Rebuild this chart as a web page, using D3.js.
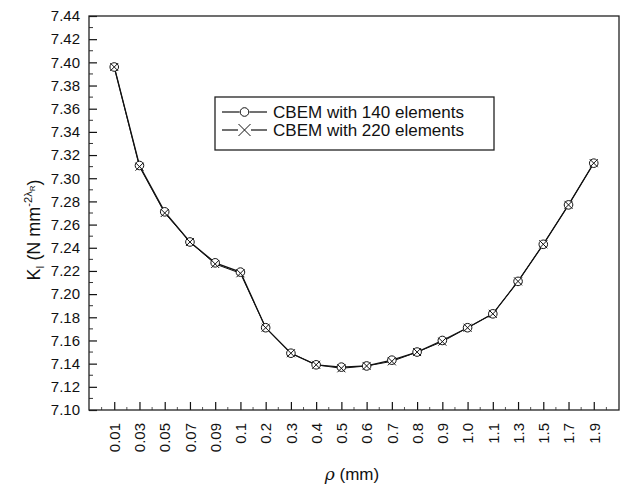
<!DOCTYPE html>
<html>
<head>
<meta charset="utf-8">
<script src="https://cdn.jsdelivr.net/npm/d3@7"></script>
<style>
  body { margin: 0; background: #fff; }
  text { font-family: "Liberation Sans", Arial, sans-serif; fill: #111; }
</style>
</head>
<body>
<div id="chart"></div>
<script>
var categories = ["0.01", "0.03", "0.05", "0.07", "0.09", "0.1", "0.2", "0.3", "0.4", "0.5",
                  "0.6", "0.7", "0.8", "0.9", "1.0", "1.1", "1.3", "1.5", "1.7", "1.9"];
var cbem140 = [7.396, 7.311, 7.271, 7.245, 7.227, 7.219, 7.171, 7.149, 7.139, 7.137,
               7.138, 7.143, 7.150, 7.160, 7.171, 7.183, 7.211, 7.243, 7.277, 7.313];
var cbem220 = [7.396, 7.310, 7.270, 7.245, 7.226, 7.218, 7.171, 7.149, 7.139, 7.136,
               7.138, 7.142, 7.150, 7.159, 7.171, 7.183, 7.211, 7.243, 7.277, 7.313];
var yTicks = [7.10, 7.12, 7.14, 7.16, 7.18, 7.20, 7.22, 7.24, 7.26, 7.28, 7.30,
              7.32, 7.34, 7.36, 7.38, 7.40, 7.42, 7.44];
var legendLabels = ["CBEM with 140 elements", "CBEM with 220 elements"];

var width = 625, height = 488;
var margin = {left: 89, top: 16, right: 6, bottom: 78};

var svg = d3.select("#chart").append("svg")
    .attr("width", width)
    .attr("height", height);

// points sit at 1..n, frame spans 0..n+1
var xScale = d3.scaleLinear()
    .domain([0, categories.length + 1])
    .range([margin.left, width - margin.right]);
var yScale = d3.scaleLinear()
    .domain([7.10, 7.44])
    .range([height - margin.bottom, margin.top]);

var x0 = xScale.range()[0], x1 = xScale.range()[1];
var y0 = yScale.range()[0], y1 = yScale.range()[1];

// minor ticks
var g = svg.append("g");
d3.range(0.5, categories.length + 1, 1).forEach(function(i) {
    g.append("line").attr("x1", xScale(i)).attr("x2", xScale(i))
        .attr("y1", y0).attr("y2", y0 - 3).attr("stroke", "#555").attr("stroke-width", 1);
});
d3.range(7.11, 7.44, 0.02).forEach(function(v) {
    g.append("line").attr("x1", x0).attr("x2", x0 + 4)
        .attr("y1", yScale(v)).attr("y2", yScale(v)).attr("stroke", "#333").attr("stroke-width", 1);
});

// x axis
var xAxis = d3.axisBottom(xScale)
    .tickValues(d3.range(1, categories.length + 1))
    .tickFormat(function(i) { return categories[i - 1]; })
    .tickSizeInner(-8).tickSizeOuter(0);
var gx = svg.append("g")
    .attr("transform", "translate(0," + y0 + ")")
    .call(xAxis);
gx.select(".domain").remove();
gx.selectAll(".tick line").attr("stroke", "#111").attr("stroke-width", 1.2);
gx.selectAll(".tick text")
    .attr("transform", "rotate(-90)")
    .attr("x", -13).attr("y", 0).attr("dy", "0.35em")
    .style("text-anchor", "end")
    .style("font-size", "15px")
    .style("font-family", "'Liberation Sans', Arial, sans-serif")
    .attr("fill", "#111");

// y axis
var yAxis = d3.axisLeft(yScale)
    .tickValues(yTicks)
    .tickFormat(d3.format(".2f"))
    .tickSizeInner(-8).tickSizeOuter(0);
var gy = svg.append("g")
    .attr("transform", "translate(" + x0 + ",0)")
    .call(yAxis);
gy.select(".domain").remove();
gy.selectAll(".tick line").attr("stroke", "#111").attr("stroke-width", 1.2);
gy.selectAll(".tick text")
    .attr("x", -9)
    .style("font-size", "15px")
    .style("font-family", "'Liberation Sans', Arial, sans-serif")
    .attr("fill", "#111");

// frame
svg.append("rect")
    .attr("x", x0).attr("y", y1)
    .attr("width", x1 - x0).attr("height", y0 - y1)
    .attr("fill", "none").attr("stroke", "#222").attr("stroke-width", 1.3);

// series
var line = d3.line()
    .x(function(d, i) { return xScale(i + 1); })
    .y(function(d) { return yScale(d); });

svg.append("path").datum(cbem140)
    .attr("d", line).attr("fill", "none").attr("stroke", "#111").attr("stroke-width", 1.3);
svg.append("path").datum(cbem220)
    .attr("d", line).attr("fill", "none").attr("stroke", "#111").attr("stroke-width", 1);

function circleMark(sel, cx, cy) {
    sel.append("circle").attr("cx", cx).attr("cy", cy).attr("r", 4.3)
        .attr("fill", "#fff").attr("stroke", "#111").attr("stroke-width", 1);
}
function crossMark(sel, cx, cy, s) {
    sel.append("path")
        .attr("d", "M" + (cx - s) + "," + (cy - s) + "L" + (cx + s) + "," + (cy + s) +
                   "M" + (cx - s) + "," + (cy + s) + "L" + (cx + s) + "," + (cy - s))
        .attr("stroke", "#111").attr("stroke-width", 1).attr("fill", "none");
}

var marks = svg.append("g");
cbem140.forEach(function(d, i) { circleMark(marks, xScale(i + 1), yScale(d)); });
cbem220.forEach(function(d, i) { crossMark(marks, xScale(i + 1), yScale(d), 4); });

// legend
var lg = svg.append("g");
lg.append("rect")
    .attr("x", 215).attr("y", 97).attr("width", 279).attr("height", 53)
    .attr("fill", "#fff").attr("stroke", "#222").attr("stroke-width", 1.3);
legendLabels.forEach(function(lab, i) {
    var cy = 112 + i * 18;
    var gap = i === 0 ? 5 : 6.5;
    lg.append("line").attr("x1", 222).attr("x2", 244.5 - gap).attr("y1", cy).attr("y2", cy)
        .attr("stroke", "#111").attr("stroke-width", 1.2);
    lg.append("line").attr("x1", 244.5 + gap).attr("x2", 267).attr("y1", cy).attr("y2", cy)
        .attr("stroke", "#111").attr("stroke-width", 1.2);
    if (i === 0) circleMark(lg, 244.5, cy);
    else crossMark(lg, 244.5, cy, 6);
    lg.append("text")
        .attr("x", 273).attr("y", cy + 5.5)
        .attr("textLength", 191).attr("lengthAdjust", "spacingAndGlyphs")
        .style("font-size", "16px")
        .text(lab);
});

// axis titles
var xt = svg.append("text")
    .attr("x", 352).attr("y", 480)
    .attr("text-anchor", "middle")
    .style("font-size", "17px");
xt.append("tspan").style("font-style", "italic").style("font-family", "'DejaVu Serif', serif").text("ρ");
xt.append("tspan").text(" (mm)");

var yt = svg.append("text")
    .attr("transform", "translate(40,230) rotate(-90)")
    .attr("text-anchor", "middle")
    .style("font-size", "18px");
yt.append("tspan").text("K");
yt.append("tspan").attr("dy", 4).style("font-size", "10px").text("I");
yt.append("tspan").attr("dy", -4).text(" (N mm");
yt.append("tspan").attr("dy", -8).style("font-size", "11px").text("-2λ");
yt.append("tspan").attr("dy", 3).style("font-size", "8px").text("R");
yt.append("tspan").attr("dy", 5).text(")");
</script>
</body>
</html>
